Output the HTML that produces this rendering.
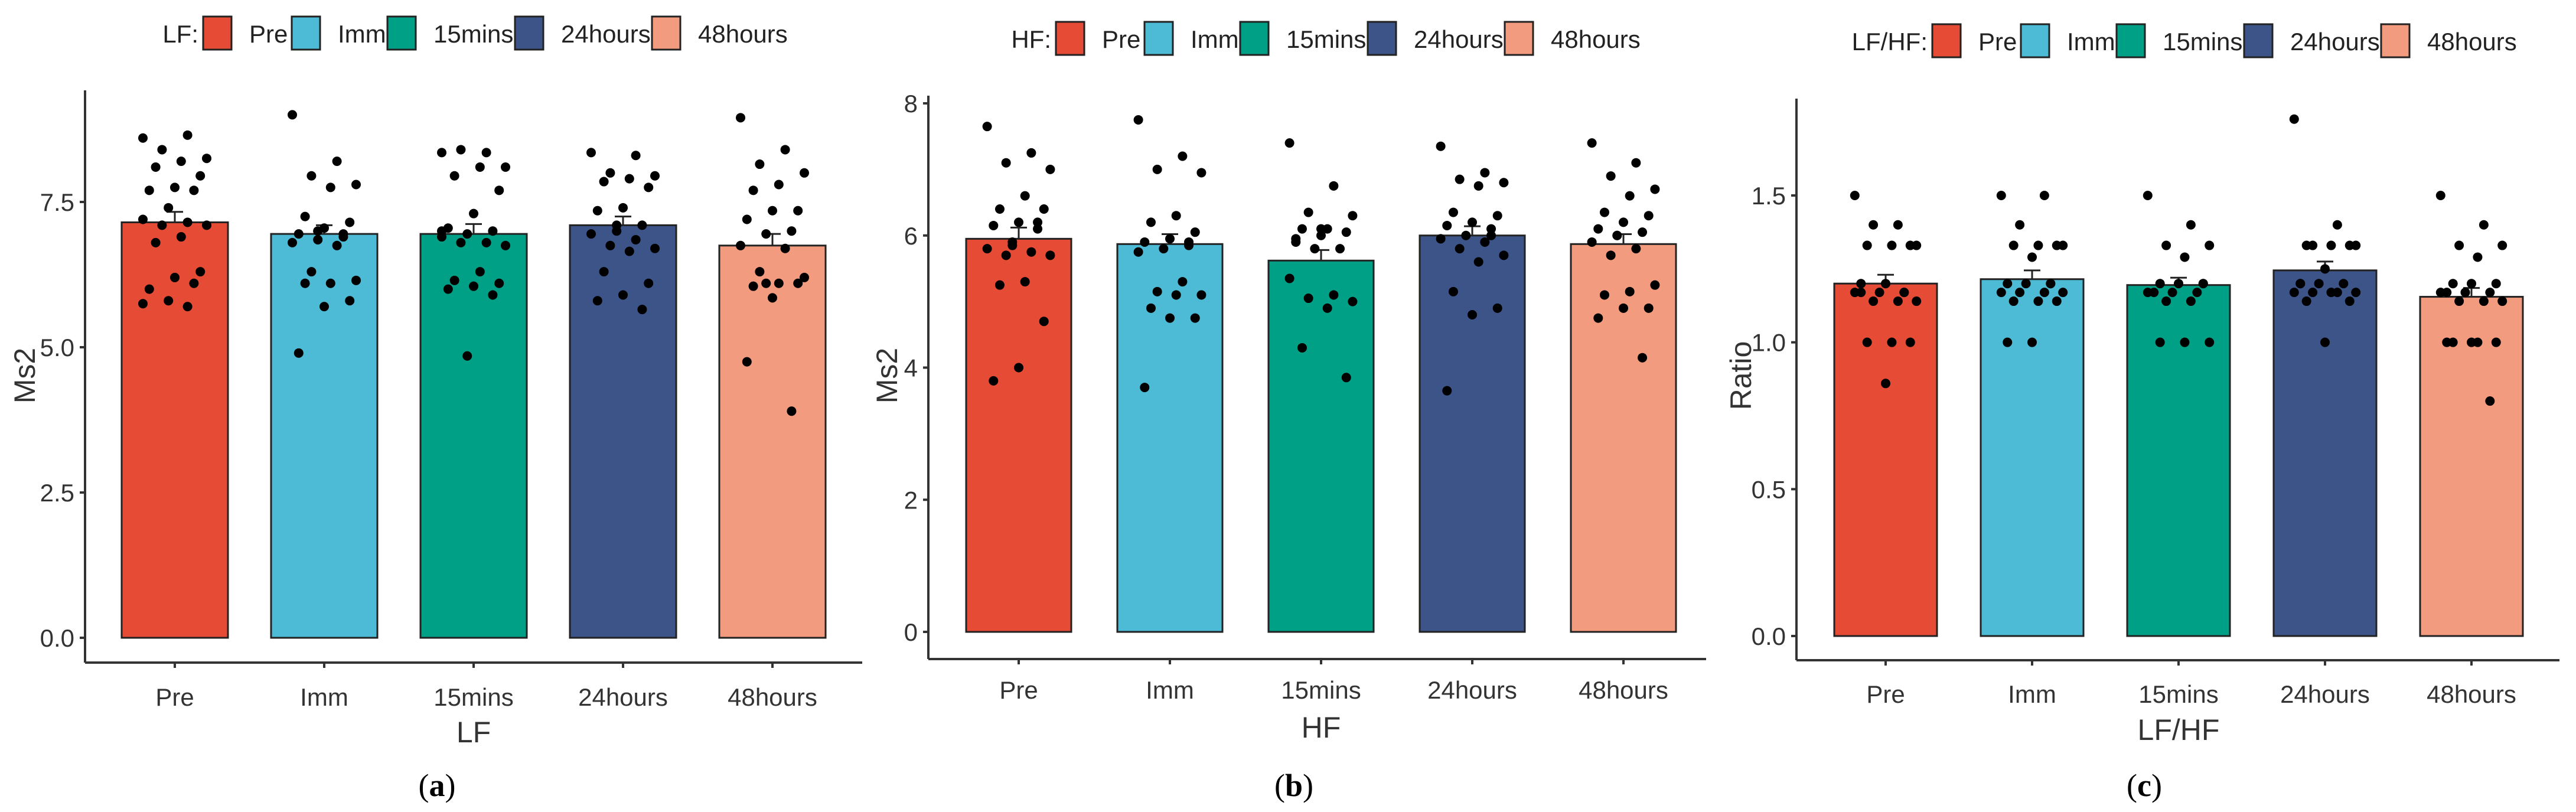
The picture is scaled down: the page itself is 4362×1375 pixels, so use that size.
<!DOCTYPE html>
<html><head><meta charset="utf-8">
<style>
html,body{margin:0;padding:0;background:#fff;}
svg{display:block;font-family:"Liberation Sans",sans-serif;}
</style></head>
<body>
<svg id="chart" width="4362" height="1375" viewBox="0 0 4362 1375" xmlns="http://www.w3.org/2000/svg"></svg>
<script>
const categories = ["Pre","Imm","15mins","24hours","48hours"];
const colors = ["#E64B35","#4DBBD5","#00A087","#3C5488","#F39B7F"];

const lfMeans = [7.15, 6.95, 6.95, 7.1, 6.75];
const lfSE = [0.18, 0.15, 0.17, 0.15, 0.2];
const lfPre = [8.6,8.65,8.4,8.25,8.2,8.1,7.95,7.75,7.7,7.7,7.4,7.2,7.15,7.1,7.1,6.9,6.8,6.3,6.2,6.0,6.1,5.8,5.75,5.7];
const lfImm = [9.0,8.2,7.95,7.8,7.75,7.25,7.15,7.05,6.95,6.95,6.85,6.8,6.75,6.3,6.15,6.1,6.1,5.8,5.7,4.9,6.9,7.0];
const lf15 = [8.35,8.35,8.4,8.1,8.1,7.95,7.7,7.3,7.05,7.0,6.95,6.9,6.8,6.8,6.75,6.3,6.15,6.1,6.05,6.0,5.9,4.85,7.0];
const lf24 = [8.35,8.3,8.0,7.95,7.9,7.85,7.75,7.4,7.35,7.1,7.0,6.95,6.85,6.75,6.7,6.65,6.3,6.1,5.9,5.8,5.65,7.1];
const lf48 = [8.95,8.4,8.15,8.0,7.8,7.7,7.35,7.35,7.2,7.0,6.95,6.75,6.7,6.3,6.2,6.1,6.05,6.1,5.85,4.75,3.9,6.1];

const hfMeans = [5.95, 5.87, 5.62, 6.0, 5.87];
const hfSE = [0.17, 0.15, 0.16, 0.14, 0.15];
const hfPre = [7.65,7.25,7.1,7.0,6.6,6.4,6.4,6.2,6.15,6.1,5.9,5.8,5.75,5.7,5.7,5.3,5.25,4.7,4.0,3.8,6.2,5.85];
const hfImm = [7.75,7.2,7.0,6.95,6.3,6.2,6.05,5.95,5.9,5.85,5.8,5.75,5.3,5.15,5.1,5.1,4.9,4.75,4.75,3.7,5.9];
const hf15 = [7.4,6.75,6.35,6.3,6.1,6.1,6.05,6.0,5.9,5.8,5.8,5.35,5.1,5.05,5.0,4.9,4.3,3.85,6.1,5.95];
const hf24 = [7.35,6.95,6.85,6.8,6.75,6.35,6.3,6.2,6.15,6.1,6.0,5.95,5.9,5.8,5.7,5.6,5.15,4.9,4.8,3.65,6.0];
const hf48 = [7.4,7.1,6.9,6.7,6.6,6.35,6.3,6.2,6.1,6.05,6.0,5.9,5.8,5.7,5.25,5.15,5.1,4.9,4.9,4.75,4.15,6.0];

const ratioMeans = [1.2, 1.215, 1.195, 1.245, 1.155];
const ratioSE = [0.03, 0.03, 0.025, 0.03, 0.03];
const ratioPre = [1.5,1.4,1.4,1.33,1.33,1.33,1.33,1.2,1.17,1.17,1.17,1.17,1.14,1.14,1.14,1.0,1.0,1.0,0.86,1.2,1.17];
const ratioImm = [1.5,1.5,1.4,1.33,1.33,1.33,1.33,1.29,1.2,1.2,1.2,1.17,1.17,1.17,1.17,1.14,1.14,1.14,1.0,1.0,1.2];
const ratio15 = [1.5,1.4,1.33,1.33,1.29,1.2,1.2,1.2,1.17,1.17,1.17,1.17,1.14,1.14,1.0,1.0,1.0,1.2];
const ratio24 = [1.76,1.4,1.33,1.33,1.33,1.33,1.33,1.25,1.2,1.2,1.2,1.17,1.17,1.17,1.17,1.17,1.14,1.14,1.0,1.2];
const ratio48 = [1.5,1.4,1.33,1.33,1.29,1.2,1.2,1.2,1.17,1.17,1.17,1.17,1.14,1.14,1.14,1.0,1.0,1.0,1.0,1.0,0.8,1.17];

const lfTicks = [0, 2.5, 5.0, 7.5];
const lfTickLabels = ["0.0","2.5","5.0","7.5"];
const hfTicks = [0, 2, 4, 6, 8];
const hfTickLabels = ["0","2","4","6","8"];
const ratioTicks = [0, 0.5, 1.0, 1.5];
const ratioTickLabels = ["0.0","0.5","1.0","1.5"];

const NS = "http://www.w3.org/2000/svg";
const svg = document.getElementById('chart');
function mk(tag, attrs, parent, text){
  const e = document.createElementNS(NS, tag);
  for (const k in attrs) e.setAttribute(k, attrs[k]);
  if (text !== undefined) e.textContent = text;
  (parent || svg).appendChild(e);
  return e;
}

const panels = [
  {key:"lf", title:"LF", ylab:"Ms2", cap:"a", means:lfMeans, se:lfSE, pts:[lfPre,lfImm,lf15,lf24,lf48], ticks:lfTicks, tl:lfTickLabels,
   axX:144, axTop:153, axBot:1122, axRight:1460, y0:1080, yRef:7.5, yRefPx:342, c0:296, step:253, bw:180,
   legBox:344, legY:28, xlabY:1180, titleY:1240, ylabX:42, ylabY:636, capX:740},
  {key:"hf", title:"HF", ylab:"Ms2", cap:"b", means:hfMeans, se:hfSE, pts:[hfPre,hfImm,hf15,hf24,hf48], ticks:hfTicks, tl:hfTickLabels,
   axX:1572, axTop:162, axBot:1116, axRight:2889, y0:1070, yRef:8, yRefPx:175, c0:1725, step:256, bw:178,
   legBox:1788, legY:37, xlabY:1168, titleY:1232, ylabX:1502, ylabY:636, capX:2191},
  {key:"ratio", title:"LF/HF", ylab:"Ratio", cap:"c", means:ratioMeans, se:ratioSE, pts:[ratioPre,ratioImm,ratio15,ratio24,ratio48], ticks:ratioTicks, tl:ratioTickLabels,
   axX:3042, axTop:167, axBot:1118, axRight:4334, y0:1077, yRef:1.5, yRefPx:331, c0:3193, step:248, bw:174,
   legBox:3272, legY:41, xlabY:1175, titleY:1236, ylabX:2948, ylabY:636, capX:3631}
];
const legOffsets = [0,150,312,528,760];

panels.forEach(p => {
  const g = mk('g', {});
  
  
  const ys = v => p.y0 - (v / p.yRef) * (p.y0 - p.yRefPx);
  const xc = i => p.c0 + i * p.step;

  // legend
  const lg = mk('g', {}, g);
  
  
  const lt = mk('text', {x:p.legBox-8, y:p.legY+44, 'font-size':42, fill:'#222', 'text-anchor':'end'}, lg, p.title + ':');
  
  
  categories.forEach((c, i) => {
    const bx = p.legBox + legOffsets[i];
    const r = mk('rect', {x:bx, y:p.legY, width:48, height:56, fill:colors[i], stroke:'#222', 'stroke-width':3}, lg);
    
    
    const t = mk('text', {x:bx+78, y:p.legY+44, 'font-size':42, fill:'#222'}, lg, c);
    
    
  });

  // axes
  const ya = mk('line', {x1:p.axX, y1:p.axTop, x2:p.axX, y2:p.axBot, stroke:'#333', 'stroke-width':4}, g);
  
  
  const xa = mk('line', {x1:p.axX, y1:p.axBot, x2:p.axRight, y2:p.axBot, stroke:'#333', 'stroke-width':4}, g);
  
  

  p.ticks.forEach((v, i) => {
    const y = ys(v);
    mk('line', {x1:p.axX-9, y1:y, x2:p.axX, y2:y, stroke:'#333', 'stroke-width':4}, g);
    const t = mk('text', {x:p.axX-18, y:y+15, 'font-size':42, fill:'#333', 'text-anchor':'end'}, g, p.tl[i]);
    
    
  });

  // bars
  categories.forEach((c, i) => {
    const x = xc(i);
    const top = ys(p.means[i]);
    const b = mk('rect', {x:x-p.bw/2, y:top, width:p.bw, height:ys(0)-top, fill:colors[i], stroke:'#222', 'stroke-width':3}, g);
    
    
    const eTop = ys(p.means[i] + p.se[i]);
    const eb = mk('path', {d:`M${x-14},${eTop}H${x+14}M${x},${eTop}V${top}`, stroke:'#222', 'stroke-width':3, fill:'none'}, g);
    
    
    mk('line', {x1:x, y1:p.axBot, x2:x, y2:p.axBot+9, stroke:'#333', 'stroke-width':4}, g);
    const t = mk('text', {x:x, y:p.xlabY+15, 'font-size':42, fill:'#333', 'text-anchor':'middle'}, g, c);
    
    
    p.pts[i].forEach((v, j) => {
      const jit = (((j * 7) % 11) / 10 - 0.5) * 0.6 * p.bw;
      const d = mk('circle', {cx:x + jit, cy:ys(v), r:8, fill:'#000'}, g);
      
      
    });
  });

  const xt = mk('text', {x:p.c0 + 2*p.step, y:p.titleY+17, 'font-size':50, fill:'#333', 'text-anchor':'middle'}, g, p.title);
  
  
  const yt = mk('text', {x:p.ylabX, y:p.ylabY, 'font-size':50, fill:'#333', 'text-anchor':'middle', transform:`rotate(-90 ${p.ylabX} ${p.ylabY}) translate(0 17)`}, g, p.ylab);
  
  
  const cap = mk('text', {x:p.capX, y:1348, 'font-size':54, fill:'#000', 'text-anchor':'middle', 'font-family':'"Liberation Serif",serif'}, g);
  
  
  mk('tspan', {}, cap, '(');
  mk('tspan', {'font-weight':'bold'}, cap, p.cap);
  mk('tspan', {}, cap, ')');
});
</script>
</body></html>
